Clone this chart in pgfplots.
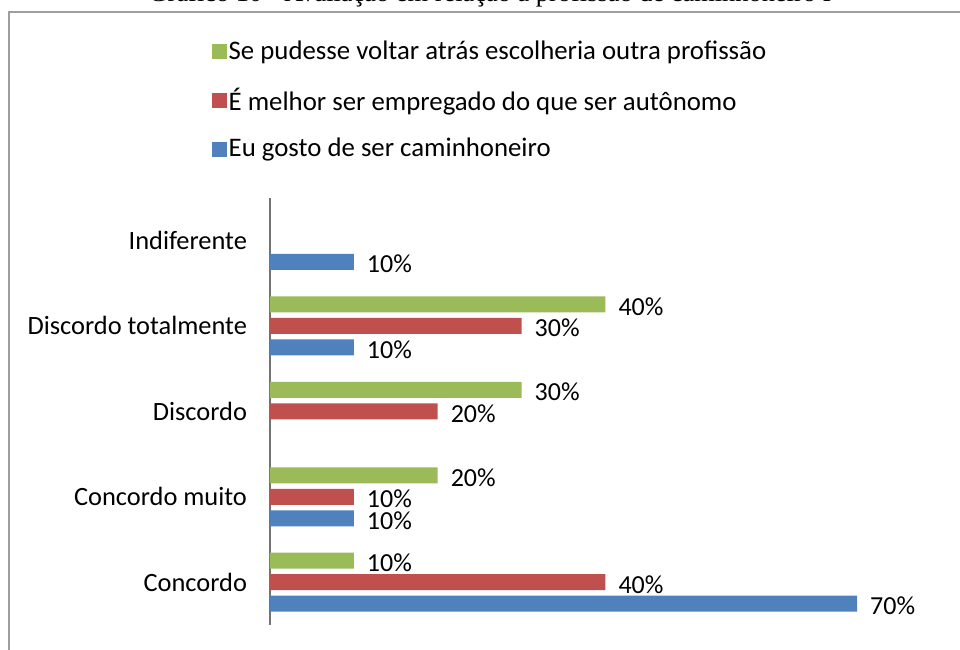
\documentclass[border=0pt]{standalone}
\usepackage{fontspec}
\setmainfont{Carlito}
\newfontfamily\titlefont{Liberation Serif}
\usepackage{pgfplots}
\pgfplotsset{compat=1.18}

\definecolor{xlblue}{HTML}{4F81BD}
\definecolor{xlred}{HTML}{C0504D}
\definecolor{xlgreen}{HTML}{9BBB59}

\begin{document}
\begin{tikzpicture}
% page = 960x649 px at 0.5pt per px
\path[use as bounding box] (0,0) rectangle (480pt,324.5pt);
\clip (0,0) rectangle (480pt,324.5pt);
% title (cut by the page top)
\node[anchor=base, font=\titlefont\fontsize{13.2}{15}\selectfont, inner sep=0pt]
    at (245pt,323.6pt) {Gráfico 10 - Avaliação em relação à profissão de caminhoneiro I};
% chart frame
\draw[black!38, line width=1pt] (4.5pt,-5pt) -- (4.5pt,318.5pt) -- (490pt,318.5pt);

\begin{axis}[
    at={(135pt,12pt)}, anchor=south west,
    scale only axis,
    width=335.5pt, height=213.75pt,
    xbar, bar width=8pt,
    xmin=0, xmax=80,
    ymin=-0.5, ymax=4.5,
    axis x line=none,
    axis y line*=left,
    axis line style={black!55, line width=0.7pt, -},
    ytick={0,1,2,3,4},
    yticklabels={Concordo, Concordo muito, Discordo, Discordo totalmente, Indiferente},
    major tick length=0pt,
    yticklabel style={font=\fontsize{13.2}{15}\selectfont, xshift=-8pt},
    /pgf/number format/assume math mode=true,
    nodes near coords={\pgfmathprintnumber{\pgfplotspointmeta}\%},
    every node near coord/.append style={font=\fontsize{13}{15}\selectfont, black, xshift=3pt, yshift=-1.2pt},
    reverse legend,
    legend cell align=left,
    legend style={
        at={(-0.0875,1.372)}, anchor=north west,
        draw=none, fill=none,
        font=\fontsize{13.4}{15}\selectfont,
        row sep=10.6pt, inner sep=0pt,
        nodes={inner sep=1pt},
    },
    legend image code/.code={\fill[#1, draw=none] (0pt,-3.75pt) rectangle (7.5pt,3.75pt);},
]
\addplot[fill=xlblue, draw=none, bar shift=-10.75pt]
    coordinates {(70,0) (10,1) (10,3) (10,4)};
\addlegendentry{Eu gosto de ser caminhoneiro}
\addplot[fill=xlred, draw=none, bar shift=0pt]
    coordinates {(40,0) (10,1) (20,2) (30,3)};
\addlegendentry{É melhor ser empregado do que ser autônomo}
\addplot[fill=xlgreen, draw=none, bar shift=10.75pt]
    coordinates {(10,0) (20,1) (30,2) (40,3)};
\addlegendentry{Se pudesse voltar atrás escolheria outra profissão}
\end{axis}
\end{tikzpicture}
\end{document}
